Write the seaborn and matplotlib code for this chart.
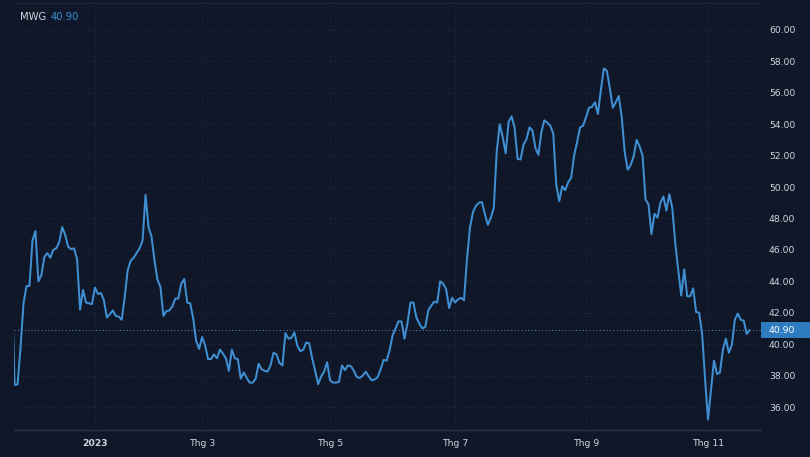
import numpy as np
import pandas as pd
import seaborn as sns
import matplotlib.pyplot as plt
import matplotlib.transforms as mtransforms
from matplotlib.patches import Rectangle

symbol = 'MWG'
last_price = 40.90
first_day = '2022-11-23'
last_day = '2023-11-21'
holidays = ['2023-01-02', '2023-01-20', '2023-01-23', '2023-01-24', '2023-01-25',
            '2023-01-26', '2023-05-01', '2023-05-02', '2023-05-03', '2023-09-01',
            '2023-09-04']

# closing prices, one per trading day
close_2022 = [44.0, 37.40, 37.45, 39.8, 42.6, 43.7, 43.7, 46.6, 47.2, 44.0,
              44.4, 45.55, 45.8, 45.5, 46.0, 46.1, 46.5, 47.45, 46.95, 46.2,
              46.05, 46.1, 45.4, 42.2, 43.45, 42.65, 42.6, 42.55]
close_h1 = [43.6, 43.2, 43.25, 42.8, 41.7, 41.9, 42.15, 41.8, 41.75, 41.55,
            43.0, 44.7, 45.3, 45.5, 45.8, 46.1, 46.6, 49.5, 47.45, 46.85,
            45.35, 44.1, 43.65, 41.8, 42.1, 42.15, 42.4, 42.9, 42.9, 43.85,
            44.15, 42.65, 42.6, 41.65, 40.2, 39.7, 40.45, 39.95, 39.05, 39.05,
            39.35, 39.1, 39.65, 39.4, 39.1, 38.3, 39.65, 39.1, 39.05, 37.8,
            38.2, 37.85, 37.55, 37.55, 37.8, 38.75, 38.4, 38.3, 38.25, 38.65,
            39.45, 39.35, 38.8, 38.65, 40.7, 40.35, 40.4, 40.75, 39.9, 39.55,
            39.65, 40.1, 40.05, 39.1, 38.3, 37.45, 37.95, 38.25, 38.85, 37.7,
            37.55, 37.55, 37.6, 38.65, 38.35, 38.65, 38.6, 38.3, 37.9, 37.85,
            38.0, 38.25, 37.95, 37.7, 37.75, 37.9, 38.4, 39.0, 38.95, 39.6,
            40.55, 41.0, 41.45, 41.45, 40.35, 41.3, 42.65, 42.65, 41.7, 41.3,
            41.0, 41.1, 42.15, 42.45, 42.7, 42.65, 44.0, 43.85, 43.5, 42.3,
            42.95]
close_h2 = [42.65, 42.85, 42.95, 42.8, 45.4, 47.4, 48.4, 48.8, 49.0, 49.05,
            48.3, 47.6, 48.05, 48.65, 52.25, 54.0, 53.2, 52.15, 54.15, 54.5,
            53.8, 51.8, 51.75, 52.7, 53.05, 53.8, 53.6, 52.5, 52.05, 53.5,
            54.25, 54.1, 53.9, 53.4, 50.15, 49.1, 50.05, 49.8, 50.3, 50.6,
            52.0, 52.85, 53.8, 53.9, 54.45, 55.05, 55.1, 55.4, 54.65, 56.2,
            57.55, 57.4, 56.3, 55.05, 55.4, 55.8, 54.45, 52.25, 51.1, 51.4,
            51.95, 53.0, 52.6, 52.0, 49.2, 48.9, 47.0, 48.3, 48.05, 49.0,
            49.4, 48.5, 49.55, 48.65, 46.4, 44.7, 43.1, 44.75, 43.05, 43.05,
            43.55, 42.05, 42.0, 40.7, 37.8, 35.2, 37.1, 38.95, 38.1, 38.2,
            39.65, 40.35, 39.45, 39.95, 41.55, 41.95, 41.55, 41.5, 40.65, 40.9]

month_labels = {'2023-01': '2023', '2023-03': 'Thg 3', '2023-05': 'Thg 5',
                '2023-07': 'Thg 7', '2023-09': 'Thg 9', '2023-11': 'Thg 11'}
y_ticks = list(range(36, 61, 2))

bg = '#0f1729'
line_color = '#3f8fd2'
text_color = '#d1d4dc'
grid_color = '#222b3d'

days = pd.bdate_range(first_day, last_day, freq='C', holidays=holidays)
close = close_2022 + close_h1 + close_h2
df = pd.DataFrame({'date': days[:len(close)], 'close': close})
df['bar'] = np.arange(len(df))

sns.set_theme(style='dark', rc={'axes.facecolor': bg, 'figure.facecolor': bg})
plt.rcParams['font.family'] = ['DejaVu Sans']

fig = plt.figure(figsize=(8.1, 4.57), dpi=100)
ax = fig.add_axes([14 / 810, 27 / 457, 747 / 810, 427 / 457])

sns.lineplot(data=df, x='bar', y='close', color=line_color, linewidth=1.45, ax=ax)

# first trading day of the labelled months
ym = df['date'].dt.strftime('%Y-%m')
first_rows = df[~ym.duplicated()]
first_rows = first_rows[ym[first_rows.index].isin(list(month_labels))]
xt = first_rows['bar'].tolist()
xl = [month_labels[d.strftime('%Y-%m')] for d in first_rows['date']]

ax.set_xlim(0.8, 251.8)
ax.set_ylim(34.536, 61.716)
ax.set_xticks(xt)
ax.set_xticklabels(xl)
ax.set_yticks(y_ticks)
ax.set_yticklabels(['%.2f' % v for v in y_ticks])
ax.yaxis.tick_right()
ax.set_xlabel('')
ax.set_ylabel('')

ax.tick_params(axis='x', length=0, pad=6.5, labelsize=6.7, labelcolor=text_color)
ax.tick_params(axis='y', length=0, pad=5.8, labelsize=6.7, labelcolor=text_color)
for lab in ax.get_xticklabels():
    if lab.get_text() == '2023':
        lab.set_fontweight('bold')

ax.grid(True, color=grid_color, linestyle=(0, (1, 2)), linewidth=0.8)
for side in ['left', 'right']:
    ax.spines[side].set_visible(False)
ax.spines['bottom'].set_color('#2b3548')
ax.spines['bottom'].set_linewidth(1)
ax.spines['top'].set_color('#1c2436')
ax.spines['top'].set_linewidth(1)

ax.axhline(last_price, color='#4a93cf', linestyle=(0, (1, 2.5)), linewidth=0.7)
trans = mtransforms.blended_transform_factory(ax.transAxes, ax.transData)
ax.add_patch(Rectangle((1.0, last_price - 0.5), 49 / 747, 1.0, transform=trans,
                       facecolor='#2e7bbf', edgecolor='none', clip_on=False))
ax.text(1.0 + 8 / 747, last_price, '%.2f' % last_price, transform=trans,
        color='white', fontsize=6.7, va='center', ha='left')

fig.text(20 / 810, 1 - 17.5 / 457, symbol, color=text_color, fontsize=7.2, va='center')
fig.text(50.5 / 810, 1 - 17.5 / 457, '%.2f' % last_price, color=line_color,
         fontsize=7.2, va='center')

fig.savefig('out.png', dpi=100, facecolor=bg)
